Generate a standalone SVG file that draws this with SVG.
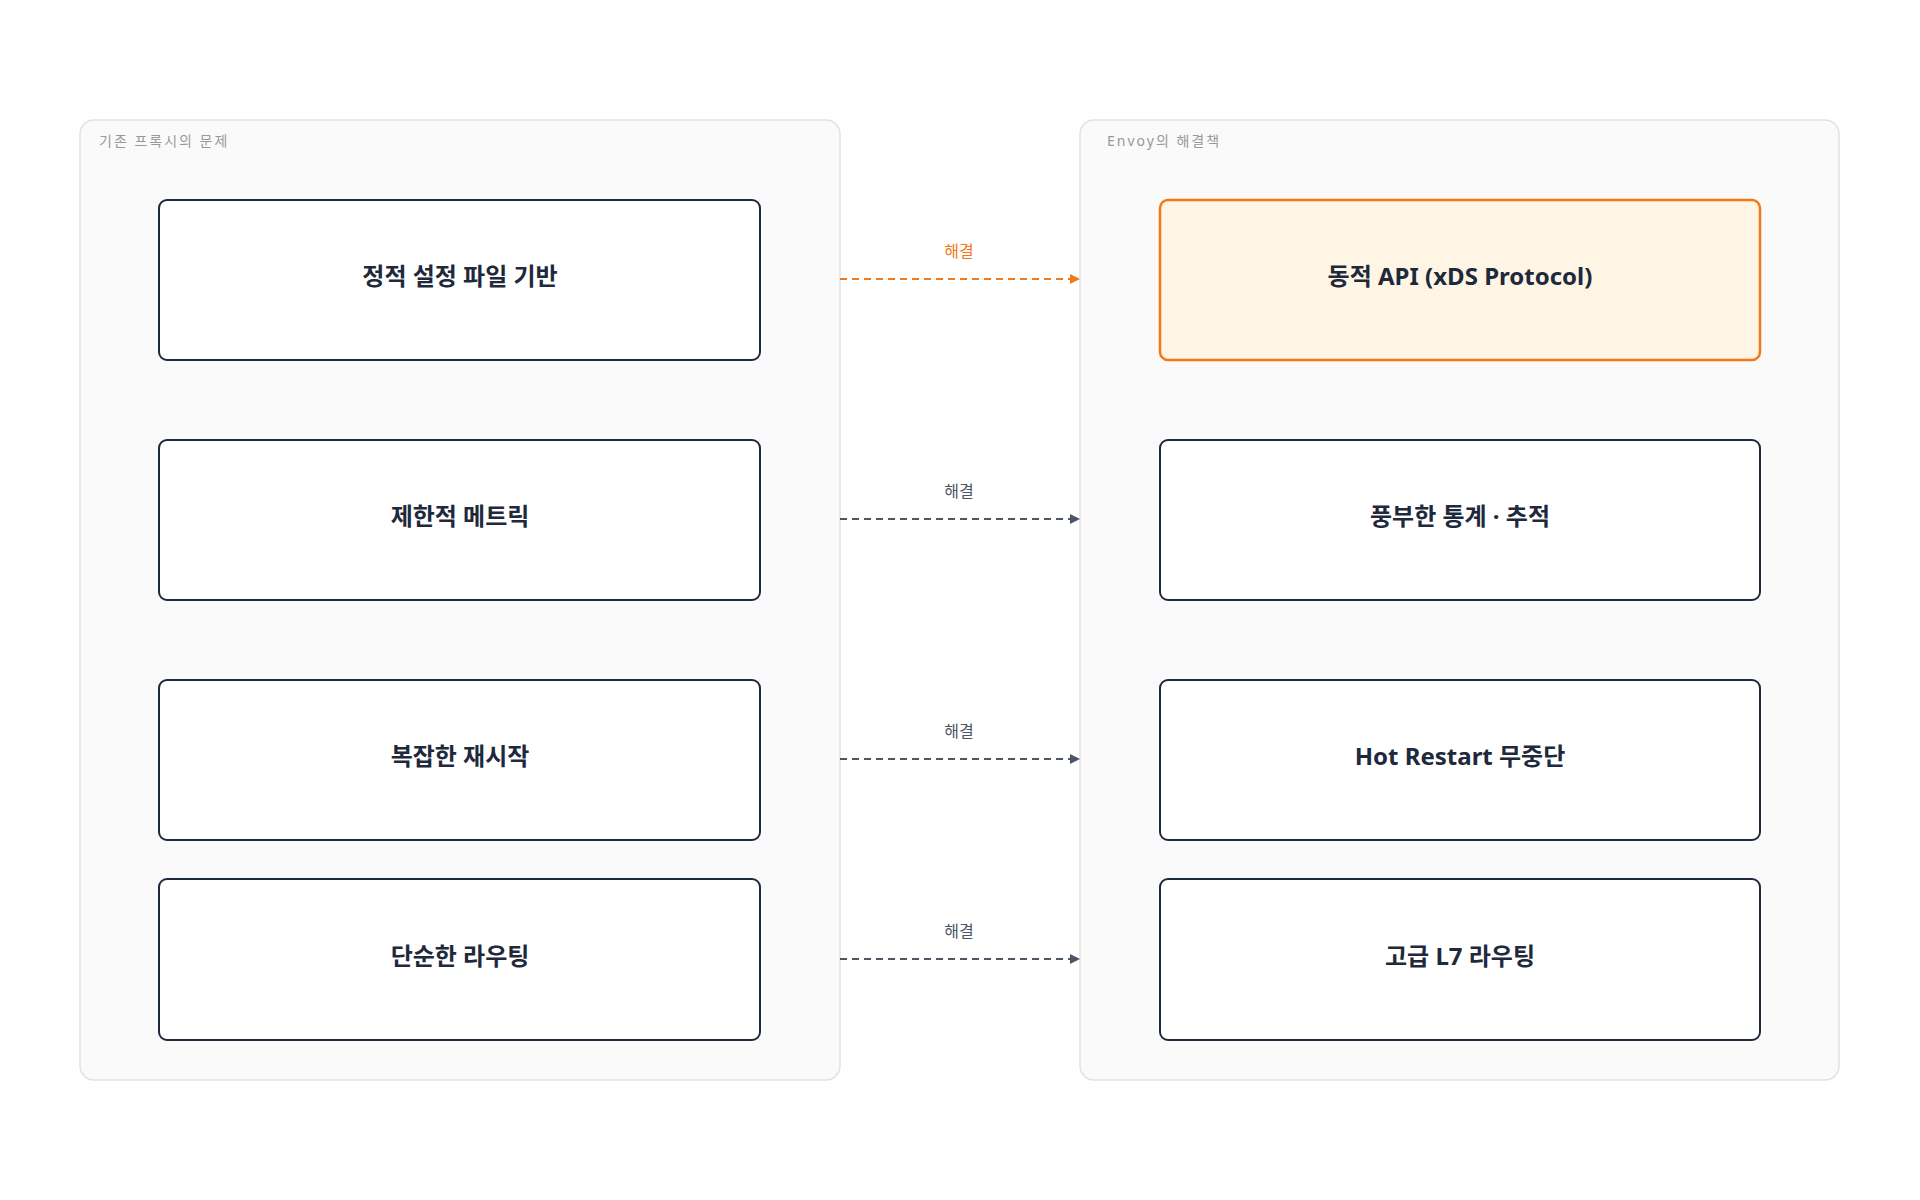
<svg xmlns="http://www.w3.org/2000/svg" width="1920" height="1200" viewBox="0 0 1920 1200">
<defs>
<style>
.grp{fill:#fafafa;stroke:#e2e2e2;stroke-width:1.5}
.gl{font-family:"Noto Sans","Noto Sans CJK KR",sans-serif;font-size:14px;fill:#999;letter-spacing:2px}
.n{fill:#fff;stroke:#1e293b;stroke-width:2}
.hl{fill:#fff5e5;stroke:#f07a1a;stroke-width:2.5}
.t{font-family:"Noto Sans","Noto Sans CJK KR",sans-serif;font-size:24px;font-weight:bold;fill:#1e293b;text-anchor:middle;dominant-baseline:central}
.e{stroke:#4b5563;stroke-width:2;stroke-dasharray:7 5;fill:none}
.eh{stroke:#f07a1a;stroke-width:2;stroke-dasharray:7 5;fill:none}
.el{font-family:"Noto Sans","Noto Sans CJK KR",sans-serif;font-size:16px;fill:#4b5563;text-anchor:middle}
</style>
<marker id="a" viewBox="0 0 10 10" refX="10" refY="5" markerWidth="10" markerHeight="10" markerUnits="userSpaceOnUse" orient="auto"><path d="M0,0L10,5L0,10z" fill="#4b5563"/></marker>
<marker id="ao" viewBox="0 0 10 10" refX="10" refY="5" markerWidth="10" markerHeight="10" markerUnits="userSpaceOnUse" orient="auto"><path d="M0,0L10,5L0,10z" fill="#f07a1a"/></marker>
</defs>
<rect width="1920" height="1200" fill="#fff"/>
<g id="left-group"><rect class="grp" x="80" y="120" width="760" height="960" rx="14"/><text class="gl" x="99" y="146">기존 프록시의 문제</text></g>
<g id="right-group"><rect class="grp" x="1080" y="120" width="759" height="960" rx="14"/><text class="gl" x="1107" y="146">Envoy의 해결책</text></g>
<g id="n1"><rect class="n" x="159" y="200" width="601" height="160" rx="8"/><text class="t" x="460" y="275">정적 설정 파일 기반</text></g>
<g id="n2"><rect class="n" x="159" y="440" width="601" height="160" rx="8"/><text class="t" x="460" y="515">제한적 메트릭</text></g>
<g id="n3"><rect class="n" x="159" y="680" width="601" height="160" rx="8"/><text class="t" x="460" y="755">복잡한 재시작</text></g>
<g id="n4"><rect class="n" x="159" y="879" width="601" height="161" rx="8"/><text class="t" x="460" y="955">단순한 라우팅</text></g>
<g id="m1"><rect class="hl" x="1160" y="200" width="600" height="160" rx="8"/><text class="t" x="1460" y="275">동적 API (xDS Protocol)</text></g>
<g id="m2"><rect class="n" x="1160" y="440" width="600" height="160" rx="8"/><text class="t" x="1460" y="515">풍부한 통계 · 추적</text></g>
<g id="m3"><rect class="n" x="1160" y="680" width="600" height="160" rx="8"/><text class="t" x="1460" y="755">Hot Restart 무중단</text></g>
<g id="m4"><rect class="n" x="1160" y="879" width="600" height="161" rx="8"/><text class="t" x="1460" y="955">고급 L7 라우팅</text></g>
<g id="connectors">
<path class="eh" d="M840 279H1080" marker-end="url(#ao)"/><text class="el" x="959" y="257" style="fill:#f07a1a">해결</text>
<path class="e" d="M840 519H1080" marker-end="url(#a)"/><text class="el" x="959" y="497">해결</text>
<path class="e" d="M840 759H1080" marker-end="url(#a)"/><text class="el" x="959" y="737">해결</text>
<path class="e" d="M840 959H1080" marker-end="url(#a)"/><text class="el" x="959" y="937">해결</text>
</g>
</svg>
